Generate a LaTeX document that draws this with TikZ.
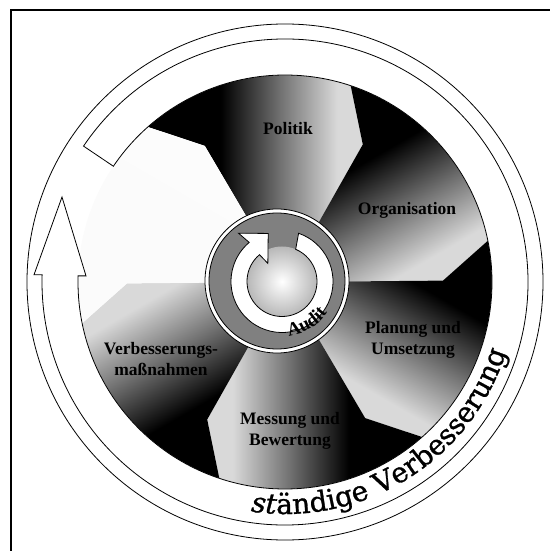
\documentclass[tikz,border=0pt]{standalone}
\usepackage{fontspec}
\setmainfont{Liberation Serif}
\newfontfamily\ringfont[FakeBold=1]{DejaVu Serif}
\usetikzlibrary{decorations.text}
\pgfdeclarehorizontalshading{bladeshade}{100bp}{color(0bp)=(black); color(42bp)=(black); color(56bp)=(black!55); color(69bp)=(black!15); color(100bp)=(black!15)}
\pgfdeclarehorizontalshading{whiteshade}{100bp}{color(0bp)=(black!2); color(100bp)=(black!1)}
\newcommand\bladeat[2]{%
  \begin{scope}[transform canvas={rotate=#1}]
    \shade[shading=#2] (0,0) -- (60.5:158) -- (71.5:207) arc[start angle=71.5,end angle=131.5,radius=207] -- (120.5:158) -- cycle;
  \end{scope}}
\begin{document}
\begin{tikzpicture}[x=1pt,y=1pt,
  lbl/.style={font=\fontsize{17.5}{21}\selectfont\bfseries, align=center, text=black, inner sep=0pt},
  thinline/.style={line width=0.8pt, draw=black}]
\useasboundingbox (-285,-269) rectangle (264,282);
\fill[white] (-285,-269) rectangle (264,282);
% frame
\draw[line width=1.2pt] (-274,-275) -- (-274,272) -- (270,272);
% outermost circle
\draw[thinline] (0,0) circle[radius=258];
% blades
\bladeat{0}{bladeshade}
\bladeat{-60}{bladeshade}
\bladeat{-120}{bladeshade}
\bladeat{-180}{bladeshade}
\bladeat{-240}{bladeshade}
\bladeat{60}{whiteshade}
% outer arrow band
\draw[thinline, fill=white] (146:207) -- (146:243)
  arc[start angle=146, end angle=-181.7, radius=243]
  -- (-251,7.2) -- (-223,85) -- (-199,6.1) -- (-181.7:207)
  arc[start angle=-181.7, end angle=146, radius=207] -- cycle;
\path[decorate, decoration={text along path, text align=left,
  text={|\ringfont\fontsize{28}{30}\selectfont\itshape|st|\ringfont\fontsize{28}{30}\selectfont|ändige Verbesserung}}]
  (-98.5:232) arc[start angle=-98.5, end angle=-3, radius=232];
% audit
\draw[thinline, fill=white] (-8,1) circle[radius=72];
\draw[thinline, fill=black!50] (-8,1) circle[radius=68];
\begin{scope}[shift={(-3,0.5)}]
  \shade[inner color=white, outer color=black!28] (0,0) circle[radius=35];
  \draw[thinline, fill=white] (71:51) arc[start angle=71, end angle=-230, radius=51]
    -- (132:65) -- (106:50) -- (128:23) -- (-230:35)
    arc[start angle=-230, end angle=67, radius=35] -- cycle;
  \path[decorate, decoration={text along path, text align=left,
    text={|\fontsize{19}{21}\selectfont\bfseries|Audit}}]
    (-83:55) arc[start angle=-83, end angle=0, radius=55];
\end{scope}
% labels
\node[lbl] (politik) at (3,153) {Politik};
\node[lbl] (org) at (122,72) {Organisation};
\node[lbl] (plan) at (128,-58) {Planung und\\Umsetzung};
\node[lbl] (mess) at (5,-149) {Messung und\\Bewertung};
\node[lbl] (verb) at (-124,-77) {Verbesserungs-\\maßnahmen};
\end{tikzpicture}
\end{document}
